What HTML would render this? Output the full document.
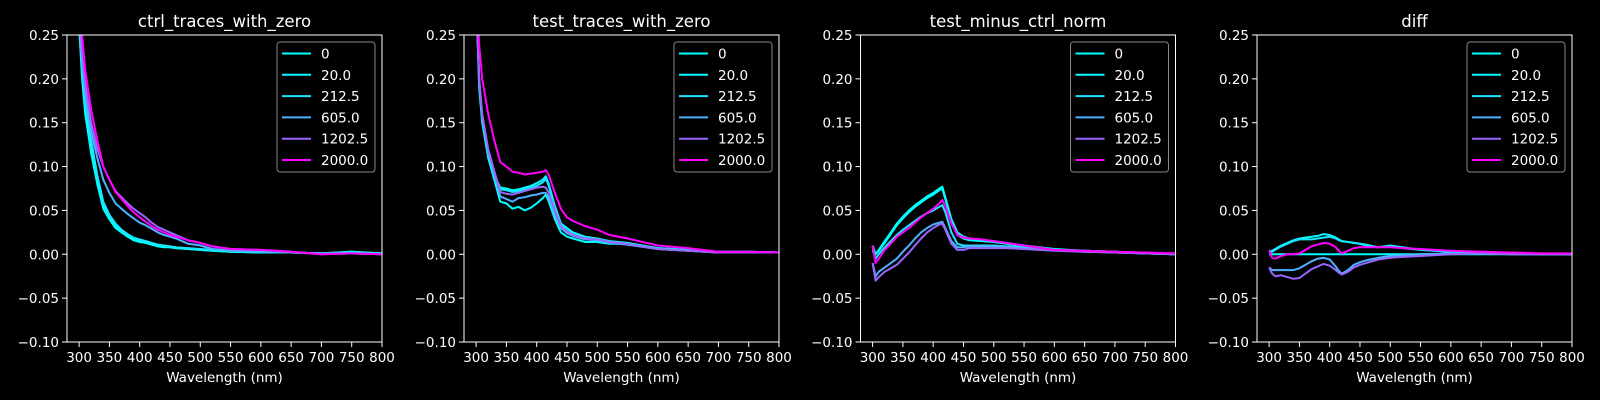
<!DOCTYPE html>
<html><head><meta charset="utf-8">
<style>
html,body{margin:0;padding:0;background:#000;}
svg{display:block;font-family:"DejaVu Sans","Liberation Sans",sans-serif;}
</style></head>
<body>
<svg id="fig" width="1600" height="400" viewBox="0 0 1600 400" xmlns="http://www.w3.org/2000/svg">
<rect width="1600" height="400" fill="#000"/>
</svg>
<script>
const WL = [300,305,310,320,330,340,350,360,370,380,390,400,410,415,420,430,440,450,460,480,500,520,550,600,650,700,750,800];
const seriesLabels = ["0","20.0","212.5","605.0","1202.5","2000.0"];
const seriesColors = ["#00ffff","#03fcff","#1be4ff","#4db2ff","#9966ff","#ff00ff"];
const panelTitles = ["ctrl_traces_with_zero","test_traces_with_zero","test_minus_ctrl_norm","diff"];
const yTicks = [-0.10,-0.05,0.00,0.05,0.10,0.15,0.20,0.25];
const yTickLabels = ["\u22120.10","\u22120.05","0.00","0.05","0.10","0.15","0.20","0.25"];
const xTicks = [300,350,400,450,500,550,600,650,700,750,800];

const ctrl0 = [0.26,0.20,0.16,0.115,0.08,0.052,0.040,0.030,0.025,0.020,0.016,0.014,0.013,0.012,0.011,0.009,0.008,0.008,0.007,0.006,0.005,0.004,0.003,0.002,0.002,0.001,0.003,0.001];
const ctrl20 = [0.26,0.21,0.165,0.12,0.085,0.055,0.042,0.032,0.026,0.021,0.017,0.015,0.013,0.012,0.011,0.010,0.009,0.008,0.007,0.006,0.005,0.004,0.003,0.002,0.002,0.001,0.003,0.001];
const ctrl212 = [0.27,0.22,0.18,0.13,0.09,0.06,0.045,0.035,0.028,0.023,0.019,0.017,0.015,0.014,0.013,0.011,0.010,0.009,0.008,0.007,0.006,0.005,0.004,0.003,0.002,0.001,0.002,0.001];
const ctrl605 = [0.27,0.22,0.18,0.14,0.11,0.085,0.07,0.058,0.052,0.046,0.041,0.036,0.033,0.031,0.029,0.025,0.022,0.020,0.018,0.012,0.010,0.006,0.004,0.003,0.002,0.001,0.001,0.000];
const ctrl1202 = [0.28,0.23,0.195,0.15,0.12,0.10,0.085,0.072,0.065,0.058,0.052,0.047,0.042,0.039,0.036,0.031,0.028,0.025,0.022,0.016,0.013,0.009,0.006,0.005,0.003,0.000,0.001,0.000];
const ctrl2000 = [0.29,0.25,0.21,0.165,0.13,0.10,0.085,0.071,0.063,0.055,0.048,0.042,0.037,0.035,0.032,0.028,0.025,0.022,0.020,0.016,0.013,0.009,0.006,0.005,0.003,0.000,0.001,0.000];

const test0 = [0.30,0.19,0.15,0.11,0.085,0.06,0.058,0.052,0.054,0.050,0.053,0.058,0.064,0.068,0.060,0.040,0.025,0.020,0.018,0.014,0.014,0.012,0.012,0.006,0.004,0.002,0.003,0.002];
const test20 = [0.30,0.20,0.155,0.115,0.09,0.076,0.075,0.073,0.074,0.076,0.078,0.081,0.085,0.089,0.080,0.055,0.035,0.030,0.025,0.020,0.018,0.015,0.013,0.007,0.005,0.003,0.003,0.002];
const test212 = [0.30,0.20,0.155,0.115,0.09,0.074,0.073,0.071,0.072,0.074,0.076,0.078,0.082,0.086,0.078,0.052,0.033,0.027,0.023,0.019,0.017,0.014,0.012,0.007,0.005,0.003,0.003,0.002];
const test605 = [0.30,0.20,0.155,0.115,0.09,0.066,0.063,0.060,0.064,0.065,0.067,0.068,0.070,0.070,0.065,0.045,0.030,0.024,0.021,0.017,0.016,0.013,0.011,0.006,0.004,0.002,0.002,0.002];
const test1202 = [0.30,0.20,0.16,0.12,0.095,0.071,0.069,0.068,0.070,0.072,0.074,0.076,0.077,0.076,0.070,0.050,0.032,0.026,0.022,0.018,0.017,0.014,0.012,0.006,0.004,0.002,0.002,0.002];
const test2000 = [0.32,0.24,0.20,0.16,0.13,0.105,0.10,0.094,0.093,0.091,0.092,0.093,0.094,0.096,0.090,0.070,0.052,0.042,0.038,0.032,0.028,0.022,0.018,0.010,0.007,0.003,0.003,0.002];

const norm0 = [0.010,0.000,0.005,0.015,0.025,0.035,0.043,0.050,0.056,0.061,0.066,0.070,0.075,0.077,0.065,0.040,0.025,0.020,0.018,0.016,0.015,0.013,0.010,0.006,0.004,0.003,0.001,0.000];
const norm20 = [0.008,0.000,0.004,0.013,0.023,0.033,0.041,0.048,0.054,0.059,0.064,0.068,0.073,0.075,0.063,0.038,0.022,0.018,0.016,0.015,0.014,0.012,0.009,0.005,0.004,0.003,0.001,0.000];
const norm212 = [0.005,-0.005,0.000,0.008,0.015,0.022,0.028,0.033,0.038,0.043,0.047,0.050,0.054,0.056,0.048,0.025,0.012,0.010,0.010,0.010,0.010,0.009,0.008,0.005,0.004,0.003,0.001,0.000];
const norm605 = [-0.010,-0.025,-0.020,-0.015,-0.010,-0.005,0.003,0.010,0.018,0.025,0.030,0.034,0.036,0.037,0.030,0.015,0.008,0.008,0.009,0.009,0.009,0.008,0.007,0.005,0.003,0.002,0.001,0.000];
const norm1202 = [-0.010,-0.030,-0.026,-0.020,-0.016,-0.012,-0.005,0.002,0.010,0.018,0.025,0.030,0.034,0.035,0.028,0.012,0.005,0.005,0.007,0.007,0.007,0.007,0.006,0.004,0.003,0.002,0.001,0.000];
const norm2000 = [0.010,-0.010,-0.005,0.005,0.012,0.020,0.025,0.030,0.036,0.042,0.047,0.052,0.058,0.062,0.055,0.035,0.022,0.019,0.018,0.017,0.015,0.013,0.010,0.005,0.004,0.003,0.002,0.001];

const diff0 = [0,0,0,0,0,0,0,0,0,0,0,0,0,0,0,0,0,0,0,0,0,0,0,0,0,0,0,0];
const diff20 = [0.003,0.004,0.006,0.010,0.013,0.016,0.018,0.019,0.020,0.021,0.023,0.022,0.019,0.017,0.015,0.014,0.013,0.012,0.011,0.008,0.010,0.008,0.005,0.003,0.002,0.001,0.000,0.000];
const diff212 = [0.002,0.003,0.005,0.009,0.012,0.015,0.017,0.017,0.017,0.018,0.019,0.020,0.018,0.016,0.015,0.014,0.013,0.012,0.010,0.008,0.009,0.007,0.005,0.003,0.002,0.001,0.000,0.000];
const diff605 = [-0.015,-0.018,-0.018,-0.018,-0.018,-0.018,-0.016,-0.012,-0.008,-0.005,-0.004,-0.006,-0.014,-0.019,-0.022,-0.018,-0.012,-0.009,-0.007,-0.004,-0.002,-0.001,0.000,0.001,0.001,0.000,0.000,0.000];
const diff1202 = [-0.015,-0.022,-0.025,-0.024,-0.026,-0.028,-0.027,-0.022,-0.017,-0.014,-0.011,-0.013,-0.018,-0.021,-0.023,-0.020,-0.015,-0.012,-0.010,-0.006,-0.004,-0.003,-0.002,0.000,0.001,0.000,0.000,0.000];
const diff2000 = [0.005,-0.004,-0.005,-0.002,0.000,0.000,0.001,0.005,0.009,0.011,0.013,0.012,0.008,0.004,0.001,0.004,0.007,0.008,0.008,0.008,0.008,0.007,0.006,0.004,0.003,0.002,0.001,0.001];

const panelSeries = [
  [ctrl0,ctrl20,ctrl212,ctrl605,ctrl1202,ctrl2000],
  [test0,test20,test212,test605,test1202,test2000],
  [norm0,norm20,norm212,norm605,norm1202,norm2000],
  [diff0,diff20,diff212,diff605,diff1202,diff2000]
];

const NS = "http://www.w3.org/2000/svg";
const svg = document.getElementById("fig");
const LEFTS = [67,464,860.5,1257], AW = 315, TOP = 35, AH = 307;
const XMIN = 280, XMAX = 800, YMIN = -0.10, YMAX = 0.25;
function mk(tag, attrs, parent){const e=document.createElementNS(NS,tag);for(const k in attrs)e.setAttribute(k,attrs[k]);(parent||svg).appendChild(e);return e;}

panelTitles.forEach((title, p) => {
  const L = LEFTS[p];
  const xs = v => L + (v - XMIN) / (XMAX - XMIN) * AW;
  const ys = v => TOP + (YMAX - v) / (YMAX - YMIN) * AH;
  const g = mk("g", {});
  
  
  const cp = mk("clipPath", {id:"clip"+p}, g);
  mk("rect", {x:L, y:TOP, width:AW, height:AH}, cp);

  const t = mk("text", {x:L+AW/2, y:27, fill:"#fff", "font-size":"16.5", "text-anchor":"middle"}, g);
  t.textContent = title;
  
  

  yTicks.forEach((v,i) => {
    const y = ys(v);
    mk("line", {x1:L-5, x2:L, y1:y, y2:y, stroke:"#fff", "stroke-width":1}, g);
    const tl = mk("text", {x:L-8, y:y+5, fill:"#fff", "font-size":"13.5", "text-anchor":"end"}, g);
    tl.textContent = yTickLabels[i];
    
    
  });
  xTicks.forEach(v => {
    const x = xs(v);
    mk("line", {x1:x, x2:x, y1:TOP+AH, y2:TOP+AH+5, stroke:"#fff", "stroke-width":1}, g);
    const tl = mk("text", {x:x, y:362, fill:"#fff", "font-size":"13.5", "text-anchor":"middle"}, g);
    tl.textContent = String(v);
    
    
  });
  const xl = mk("text", {x:L+AW/2, y:382, fill:"#fff", "font-size":"13.5", "text-anchor":"middle"}, g);
  xl.textContent = "Wavelength (nm)";
  
  

  const lg = mk("g", {"clip-path":"url(#clip"+p+")"}, g);
  panelSeries[p].forEach((vals, s) => {
    const pts = vals.map((v,i) => xs(WL[i]).toFixed(1)+","+ys(v).toFixed(1)).join(" ");
    const pl = mk("polyline", {points:pts, fill:"none", stroke:seriesColors[s], "stroke-width":2, "stroke-linejoin":"round"}, lg);
    
    
  });

  mk("rect", {x:L, y:TOP, width:AW, height:AH, fill:"none", stroke:"#fff", "stroke-width":1}, g);

  const bx = L + AW - 105;
  const leg = mk("g", {}, g);
  
  
  mk("rect", {x:bx, y:42, width:98, height:130, rx:3, fill:"#000", "fill-opacity":0.8, stroke:"#888", "stroke-width":1}, leg);
  seriesLabels.forEach((lab, s) => {
    const y = 53.5 + 21.3*s;
    const e = mk("g", {}, leg);
    
    
    mk("line", {x1:bx+5, x2:bx+34, y1:y, y2:y, stroke:seriesColors[s], "stroke-width":2}, e);
    const tx = mk("text", {x:bx+44, y:y+5, fill:"#fff", "font-size":"13.5"}, e);
    tx.textContent = lab;
  });
});
</script>
</body></html>
